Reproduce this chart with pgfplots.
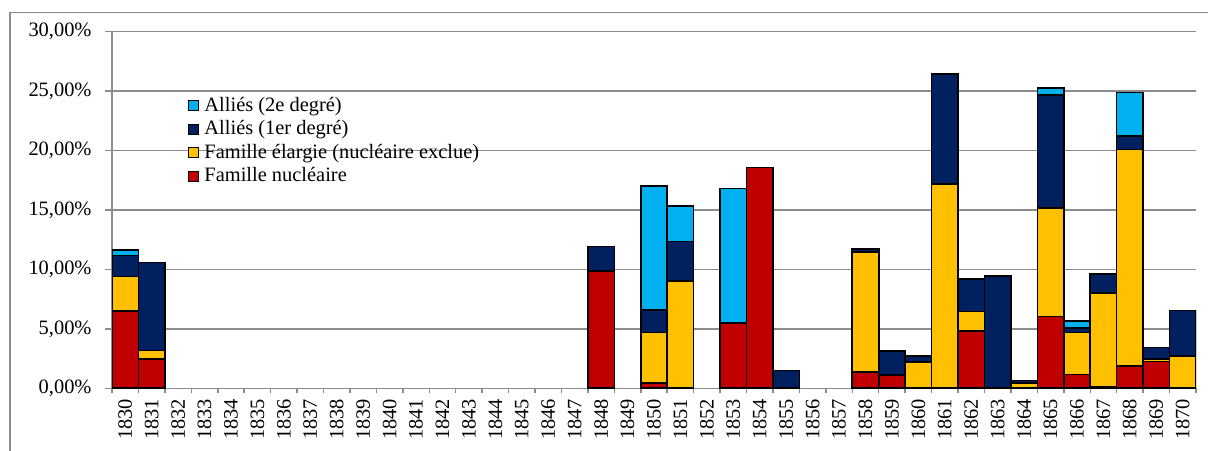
\documentclass[border=0pt]{standalone}
\usepackage{fontspec}
\setmainfont{Liberation Serif}
\usepackage{pgfplots}
\usepackage{pgfplotstable}
\pgfplotsset{compat=1.18}
\definecolor{cCyan}{HTML}{00B0F0}
\definecolor{cNavy}{HTML}{002060}
\definecolor{cYel}{HTML}{FFC000}
\definecolor{cRed}{HTML}{C00000}
\definecolor{cGrid}{HTML}{8C8C8C}
\pgfplotstableread{
year red yel navy cyan
1830 6.51 2.89 1.75 0.45
1831 2.47 0.70 7.41 0
1848 9.88 0 2.05 0
1850 0.45 4.24 1.91 10.38
1851 0 9.04 3.29 3.00
1853 5.47 0 0 11.32
1854 18.56 0 0 0
1855 0 0 1.49 0
1858 1.37 10.09 0.27 0
1859 1.12 0 2.02 0
1860 0 2.19 0.50 0
1861 0 17.18 9.22 0
1862 4.83 1.63 2.72 0
1863 0 0 9.43 0
1864 0 0.47 0.20 0
1865 6.03 9.13 9.49 0.59
1866 1.15 3.54 0.36 0.59
1867 0.10 7.93 1.60 0
1868 1.88 18.20 1.12 3.65
1869 2.24 0.20 0.98 0
1870 0 2.72 3.82 0
}\data
\pgfplotsset{
  sq legend/.style={legend image code/.code={\draw[##1,draw=black,line width=1.2bp] (0bp,-5bp) rectangle (10bp,5bp);\path (15bp,0bp);}},
}
\newcommand{\lblfont}{\fontsize{20.5}{24}\selectfont}
\begin{document}
\begin{tikzpicture}
\useasboundingbox (0bp,0bp) rectangle (1208bp,451bp);
\fill[white] (0bp,0bp) rectangle (1208bp,451bp);
\draw[cGrid, line width=1.5bp] (10bp,0bp) -- (10bp,438.7bp) -- (1208bp,438.7bp);
\begin{axis}[
  at={(112bp,62.7bp)}, anchor=south west,
  scale only axis, width=1084bp, height=357bp,
  ybar stacked, bar width=1,
  xmin=1829.5, xmax=1870.5, ymin=0, ymax=30,
  xtick={1830,...,1870}, ytick={0,5,...,30},
  minor xtick={1829.5,1830.5,...,1870.5},
  scaled ticks=false,
  axis lines*=left,
  axis line style={cGrid, line width=1.5bp},
  ymajorgrids, grid style={cGrid, line width=1.5bp},
  tick align=outside,
  major tick length=7bp, minor tick length=5bp,
  tick style={cGrid, line width=1.5bp},
  every major x tick/.append style={draw=none},
  /pgf/number format/assume math mode=true,
  yticklabel={\pgfmathprintnumber[fixed,fixed zerofill,precision=2,use comma]{\tick}\%},
  xticklabel={\pgfmathprintnumber[fixed,precision=0,1000 sep={}]{\tick}},
  tick label style={font=\lblfont},
  y tick label style={xshift=-10bp},
  x tick label style={rotate=90, anchor=east},
  legend style={at={(0.070,0.819)}, anchor=north west, draw=none, fill=none,
    font=\lblfont, inner sep=0pt, row sep=4bp,
    nodes={inner sep=0pt, text height=15bp, text depth=4.5bp}},
  legend cell align=left,
  reverse legend,
]
\addplot[fill=cRed, draw=black, line width=1.6bp, sq legend] table[x=year,y=red] {\data};
\addplot[fill=cYel, draw=black, line width=1.6bp, sq legend] table[x=year,y=yel] {\data};
\addplot[fill=cNavy, draw=black, line width=1.6bp, sq legend] table[x=year,y=navy] {\data};
\addplot[fill=cCyan, draw=black, line width=1.6bp, sq legend] table[x=year,y=cyan] {\data};
\legend{Famille nucléaire, Famille élargie (nucléaire exclue), Alliés (1er degré), Alliés (2e degré)}
\end{axis}
\end{tikzpicture}
\end{document}
